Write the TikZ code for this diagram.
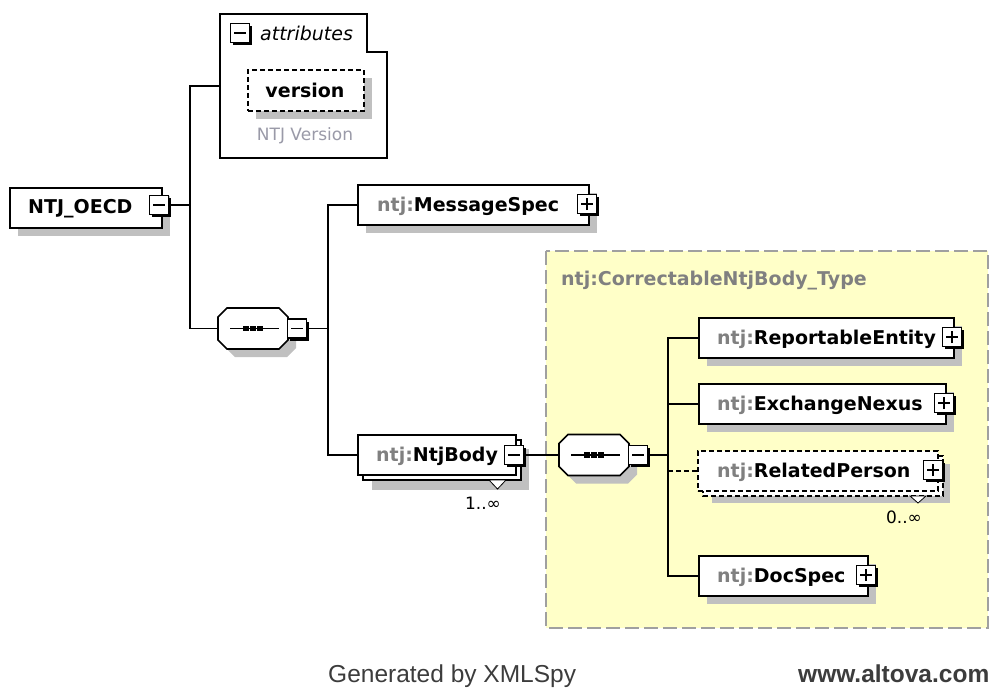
\documentclass[tikz,border=0pt]{standalone}
\usepackage{fontspec}
\setmainfont{DejaVu Sans}
\newfontfamily\footfont{Liberation Sans}
\usetikzlibrary{shadows,calc}
\definecolor{shadowgray}{HTML}{C0C0C0}
\definecolor{ybg}{HTML}{FFFFC8}
\definecolor{yborder}{HTML}{A0A0A0}
\definecolor{pfxgray}{HTML}{808080}
\definecolor{notegray}{HTML}{9A9AA8}
\definecolor{footgray}{HTML}{3C3C3C}
\newcommand\pfx[1]{\textcolor{pfxgray}{#1}}
\begin{document}
\begin{tikzpicture}[x=1pt,y=-1pt,
  conn/.style={line width=1.6pt},
  elem/.style={draw, fill=white, line width=1.6pt, inner sep=0pt, anchor=north west,
    general shadow={shadow xshift=8pt, shadow yshift=-8pt, fill=shadowgray}},
  elemflat/.style={draw, fill=white, line width=1.6pt, inner sep=0pt, anchor=north west},
  dashline/.style={dash pattern=on 5pt off 3pt},
  lbl/.style={anchor=base west, inner sep=0pt, font=\fontsize{19}{22}\selectfont\bfseries},
  occ/.style={anchor=base, inner sep=0pt, font=\fontsize{17}{20}\selectfont},
  pmbase/.style={draw, fill=white, line width=1.5pt, minimum size=19pt, inner sep=0pt,
    general shadow={shadow xshift=2.8pt, shadow yshift=-2.8pt, fill=black}},
  minusbox/.style={pmbase, path picture={\draw[line width=1.6pt]
    ([xshift=-6pt]path picture bounding box.center) -- ([xshift=6pt]path picture bounding box.center);}},
  plusbox/.style={pmbase, path picture={\draw[line width=1.6pt]
    ([xshift=-6pt]path picture bounding box.center) -- ([xshift=6pt]path picture bounding box.center)
    ([yshift=-6pt]path picture bounding box.center) -- ([yshift=6pt]path picture bounding box.center);}},
  seqoct/.pic={
    \begin{scope}[shift={(8,8)}]
      \fill[shadowgray] (-26,-20.5) -- (26,-20.5) -- (35,-11.5) -- (35,11.5) -- (26,20.5) -- (-26,20.5) -- (-35,11.5) -- (-35,-11.5) -- cycle;
    \end{scope}
    \draw[fill=white, line width=1.6pt] (-26,-20.5) -- (26,-20.5) -- (35,-11.5) -- (35,11.5) -- (26,20.5) -- (-26,20.5) -- (-35,11.5) -- (-35,-11.5) -- cycle;
    \draw[line width=1.5pt] (-23,0) -- (26,0);
    \foreach \dx in {-7,0,7} \fill (\dx-2.6,-2.6) rectangle (\dx+2.6,2.6);
  },
]
\fill[white] (0,0) rectangle (991,688);
\useasboundingbox (0,0) rectangle (991,688);

% complex type box
\draw[fill=ybg, draw=yborder, line width=1.5pt, dash pattern=on 14pt off 5pt] (546,251) rectangle (988,628);
\node[anchor=base west, inner sep=0pt, text=pfxgray, font=\fontsize{19}{22}\selectfont\bfseries] (ctype) at (561,285) {ntj:CorrectableNtjBody\_Type};

% attributes
\draw[fill=white, line width=1.6pt] (220,14) -- (367,14) -- (367,52) -- (387,52) -- (387,158) -- (220,158) -- cycle;
\coordinate (attrin) at (220,86);
\node[minusbox] (attrpm) at (240,33) {};
\node[anchor=base west, inner sep=0pt, font=\fontsize{19}{22}\selectfont\itshape] (attrt) at (260,40) {attributes};
\node[elem, dashline, minimum width=116pt, minimum height=41pt] (ver) at (247,69) {};
\node[lbl, anchor=base] (vert) at (305,97) {version};
\node[anchor=base, inner sep=0pt, font=\fontsize{17}{20}\selectfont, text=notegray] (vernote) at (305,140) {NTJ Version};

% root
\node[elem, minimum width=152pt, minimum height=40pt] (root) at (9,187) {};
\node[lbl] (roott) at (28,213) {NTJ\_OECD};
\node[minusbox] (rootpm) at (159,205) {};

% sequence 1
\pic at (253,328.5) {seqoct};
\node[inner sep=0pt, minimum width=70pt, minimum height=41pt] (seq1) at (253,328.5) {};
\node[minusbox] (seq1pm) at (297,328.5) {};

% MessageSpec
\node[elem, minimum width=231pt, minimum height=40pt] (ms) at (357,184) {};
\node[lbl] (mst) at (377,211) {\pfx{ntj:}MessageSpec};
\node[plusbox] (mspm) at (587,204) {};

% NtjBody
\fill[shadowgray] (372,449) rectangle (529,490);
\draw[fill=white, line width=1.6pt] (363,440) rectangle (521,480);
\node[elemflat, minimum width=158pt, minimum height=40pt] (nb) at (357,434) {};
\node[lbl] (nbt) at (376,461) {\pfx{ntj:}NtjBody};
\node[minusbox] (nbpm) at (514,455) {};
\draw[fill=white, line width=0.8pt] (489,480) -- (506,480) -- (497.5,489) -- cycle;
\node[occ] (nbocc) at (483,509) {1..∞};

% sequence 2
\pic at (594,455) {seqoct};
\node[inner sep=0pt, minimum width=70pt, minimum height=41pt] (seq2) at (594,455) {};
\node[minusbox] (seq2pm) at (638,455) {};

% children
\node[elem, minimum width=255pt, minimum height=40pt] (re) at (698,317) {};
\node[lbl] (ret) at (717,344) {\pfx{ntj:}ReportableEntity};
\node[plusbox] (repm) at (952,337) {};

\node[elem, minimum width=247pt, minimum height=40pt] (xn) at (698,383) {};
\node[lbl] (xnt) at (717,410) {\pfx{ntj:}ExchangeNexus};
\node[plusbox] (xnpm) at (944,403) {};

\fill[shadowgray] (712,464) rectangle (950,503);
\draw[fill=white, line width=1.6pt, dashline] (703,456) rectangle (943,496);
\node[elemflat, dashline, minimum width=240pt, minimum height=40pt] (rp) at (697,450) {};
\node[lbl] (rpt) at (717,477) {\pfx{ntj:}RelatedPerson};
\node[plusbox] (rppm) at (933,470) {};
\draw[fill=white, line width=0.8pt] (910,496) -- (926,496) -- (918,503) -- cycle;
\node[occ] (rpocc) at (904,523) {0..∞};

\node[elem, minimum width=169pt, minimum height=40pt] (ds) at (698,555) {};
\node[lbl] (dst) at (717,582) {\pfx{ntj:}DocSpec};
\node[plusbox] (dspm) at (866,575) {};

% connectors
\coordinate (b1) at (190,205);
\draw[conn] (rootpm.east) -- (b1);
\draw[conn] (attrin) -| (b1) |- (seq1.west);
\coordinate (b2) at (328,328.5);
\draw[conn] (seq1pm.east) -- (b2);
\draw[conn] (ms.west) -| (b2) |- (nb.west);
\draw[conn] (nbpm.east) -- (seq2.west);
\coordinate (b3) at (668,455);
\draw[conn] (seq2pm.east) -- (b3);
\draw[conn] (re.west) -| (b3) |- (ds.west);
\draw[conn] (xn.west) -- (xn.west -| b3);
\draw[conn, dashline] (rp.west) -- (rp.west -| b3);

% footer
\node[anchor=base west, inner sep=0pt, font=\footfont\fontsize{24.5}{28}\selectfont, text=footgray] (gen) at (328,682) {Generated by XMLSpy};
\node[anchor=base west, inner sep=0pt, font=\footfont\bfseries\fontsize{24.5}{28}\selectfont, text=footgray] (alt) at (798,682) {www.altova.com};
\end{tikzpicture}
\end{document}
